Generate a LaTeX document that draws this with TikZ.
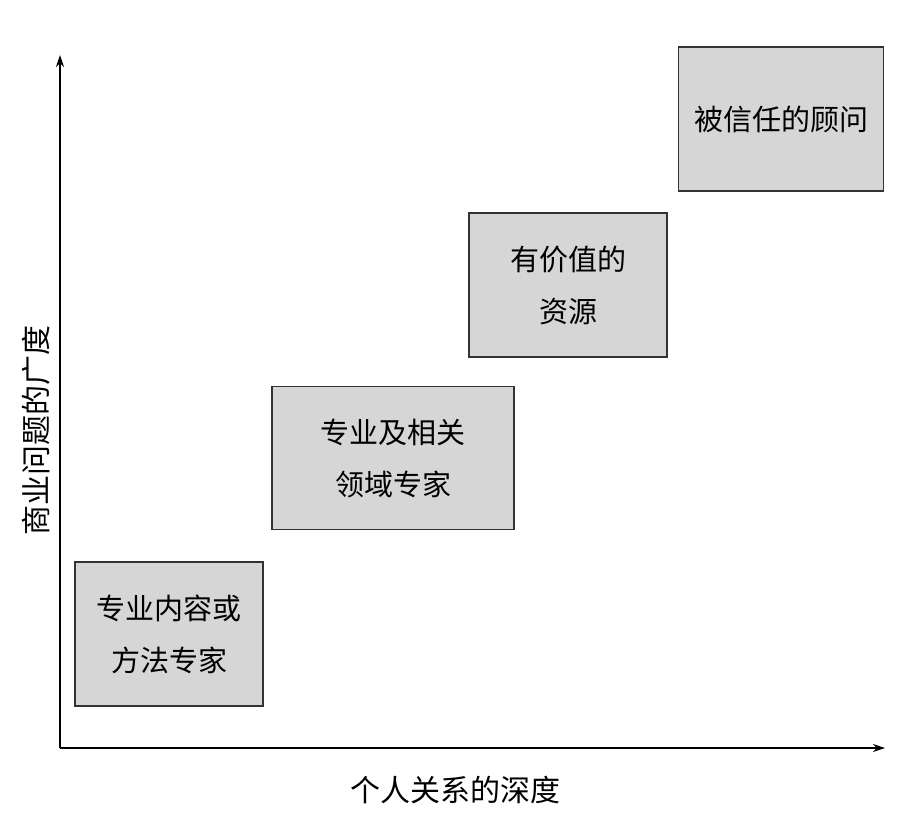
\documentclass[tikz,border=0pt]{standalone}
\usepackage{fontspec}
\newfontfamily\cjk{Noto Sans CJK SC}
\usetikzlibrary{arrows.meta}
\begin{document}
\begin{tikzpicture}[x=1pt,y=-1pt,
  boxst/.style={draw=black!80,line width=1.2pt,fill=black!16,align=center,font=\cjk\fontsize{29}{52}\selectfont},
  ax/.style={line width=1.3pt,-{Stealth[length=12pt,width=8pt]}}]
\path[use as bounding box] (0,0) rectangle (913,823);
\coordinate (o) at (60,748);
\coordinate (xe) at (885,748);
\coordinate (ye) at (60,55);
\draw[ax] (o) -- (xe);
\draw[ax] (o) -- (ye);
\node[boxst] (b1) at (169,634) [minimum width=188pt,minimum height=144pt] {专业内容或\\方法专家};
\node[boxst] (b2) at (393,458) [minimum width=242pt,minimum height=143pt] {专业及相关\\领域专家};
\node[boxst] (b3) at (568,285) [minimum width=198pt,minimum height=144pt] {有价值的\\资源};
\node[boxst] (b4) at (781,119) [minimum width=205pt,minimum height=144pt] {被信任的顾问};
\node[font=\cjk\fontsize{30}{36}\selectfont,rotate=90] (yl) at (36,430) {商业问题的广度};
\node[font=\cjk\fontsize{30}{36}\selectfont] (xl) at (455,790) {个人关系的深度};
\end{tikzpicture}
\end{document}
